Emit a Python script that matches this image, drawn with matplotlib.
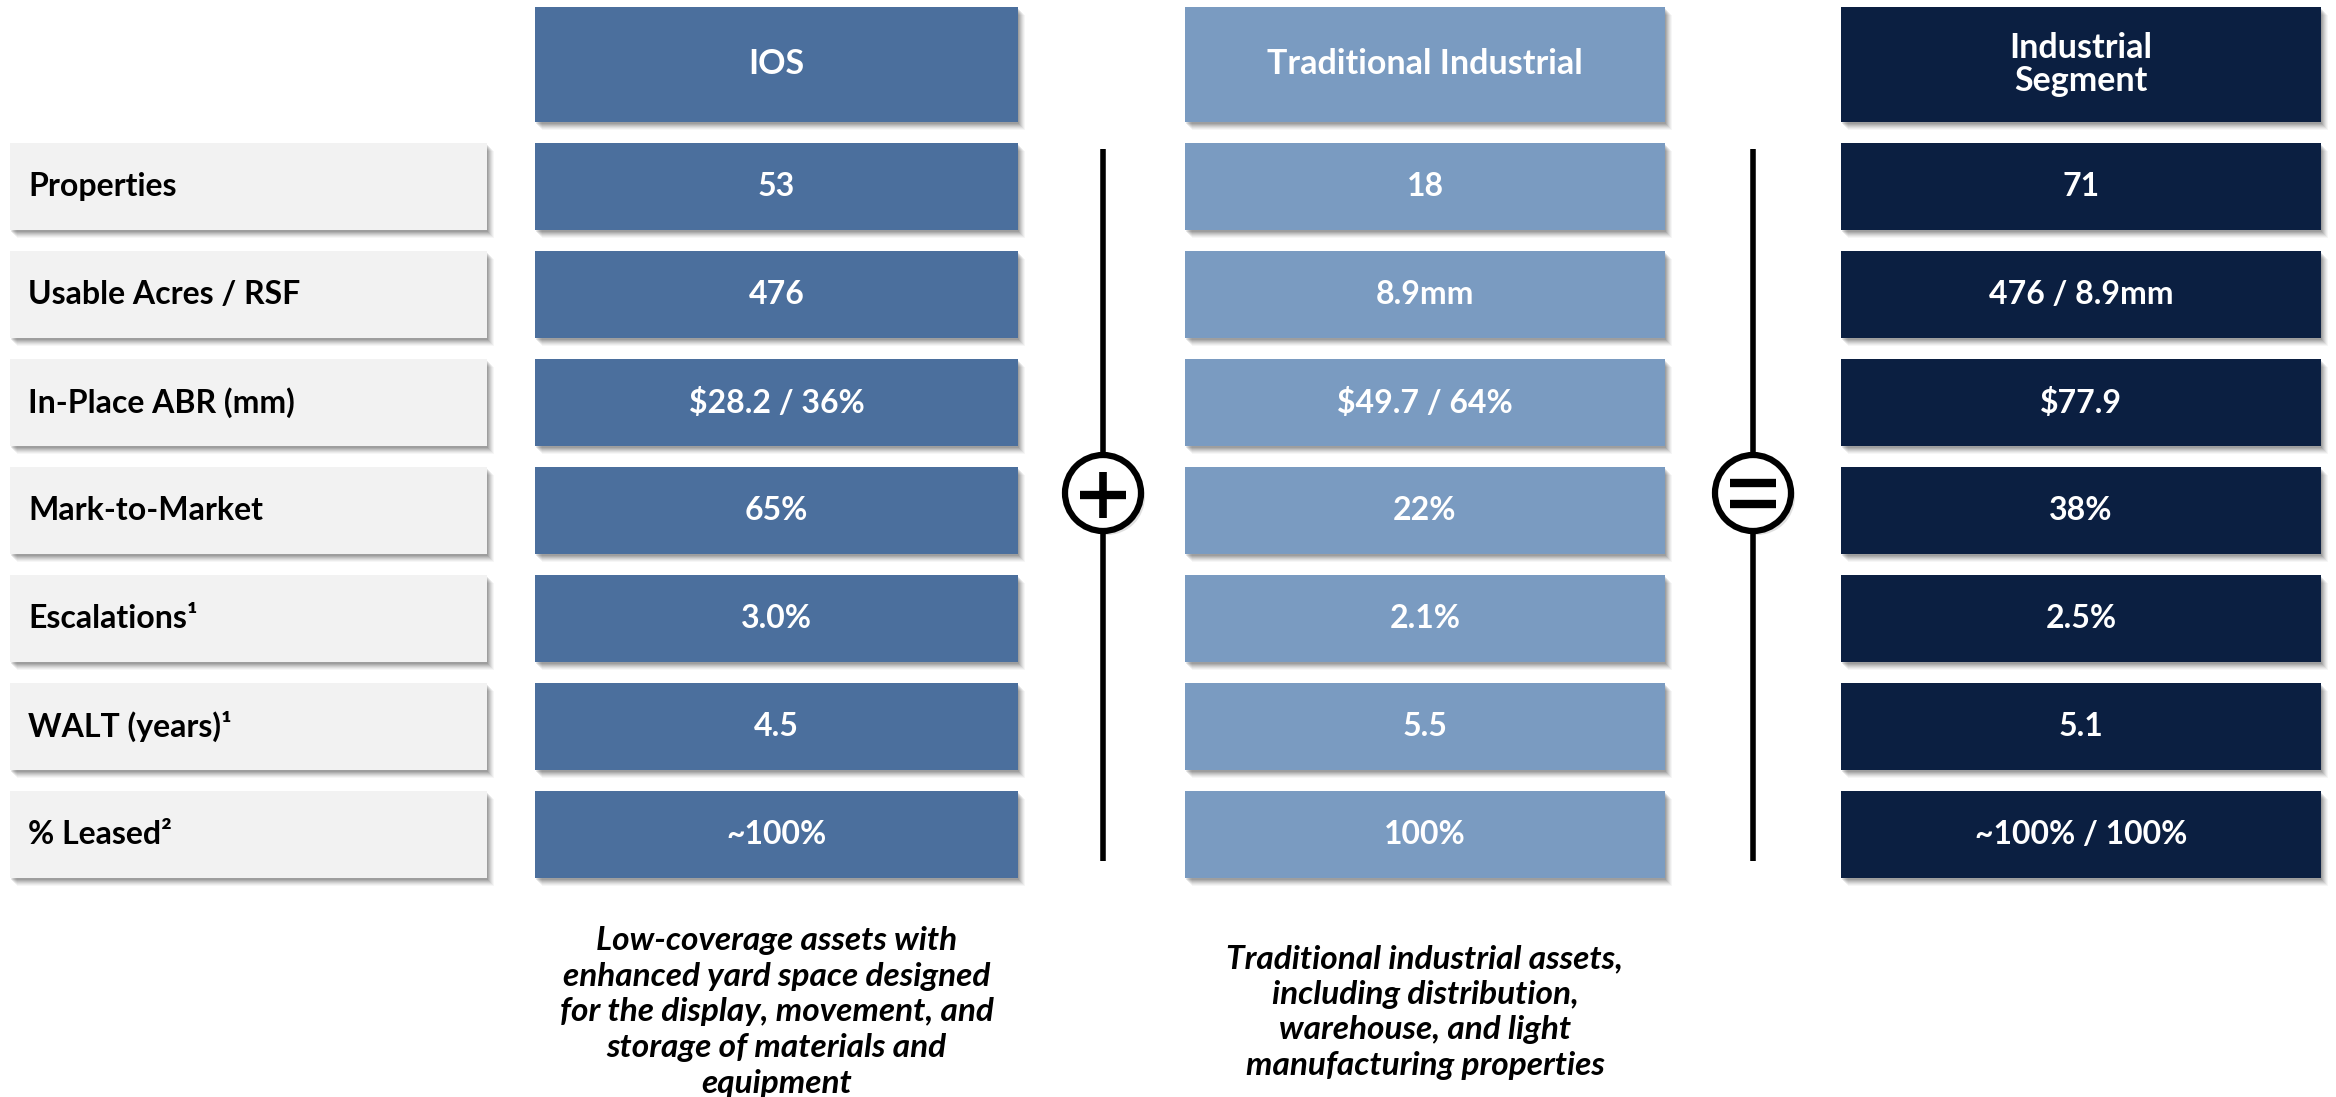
import matplotlib.pyplot as plt
from matplotlib.patches import Rectangle, Circle

plt.rcParams['font.family'] = ['Lato', 'DejaVu Sans']

metrics = ["Properties", "Usable Acres / RSF", "In-Place ABR (mm)", "Mark-to-Market",
           "Escalations¹", "WALT (years)¹", "% Leased²"]
columns = ["IOS", "Traditional Industrial", "Industrial\nSegment"]
ios_values = ["53", "476", "$28.2 / 36%", "65%", "3.0%", "4.5", "~100%"]
trad_values = ["18", "8.9mm", "$49.7 / 64%", "22%", "2.1%", "5.5", "100%"]
segment_values = ["71", "476 / 8.9mm", "$77.9", "38%", "2.5%", "5.1", "~100% / 100%"]
captions = [
    "Low-coverage assets with\nenhanced yard space designed\nfor the display, movement, and\nstorage of materials and\nequipment",
    "Traditional industrial assets,\nincluding distribution,\nwarehouse, and light\nmanufacturing properties",
]
col_colors = ["#4b6f9d", "#7a9bc1", "#0b1f41"]
label_color = "#f2f2f2"

W, H = 2336, 1097
fig = plt.figure(figsize=(W / 100, H / 100), dpi=100)
ax = fig.add_axes([0, 0, 1, 1])
ax.set_xlim(0, W)
ax.set_ylim(H, 0)
ax.axis("off")

# layout in pixels
label_x = (10, 487)
col_x = [(535, 1018), (1185, 1665), (1841, 2321)]
header_y = (7, 122)
row_top0, row_pitch, row_h = 143, 108, 87


def box(x0, x1, y0, y1, color):
    # soft drop shadow to the lower right
    for k, a in [(8, 0.035), (7, 0.045), (6, 0.055), (5, 0.065), (4, 0.075), (3, 0.085), (2, 0.09)]:
        ax.add_patch(Rectangle((x0 + k - 1, y0 + k), x1 - x0, y1 - y0, color="black", alpha=a, lw=0))
    ax.add_patch(Rectangle((x0, y0), x1 - x0, y1 - y0, color=color, lw=0))


fs = 23
# headers
for (x0, x1), name, c in zip(col_x, columns, col_colors):
    box(x0, x1, header_y[0], header_y[1], c)
    ax.text((x0 + x1) / 2, (header_y[0] + header_y[1]) / 2, name, color="white",
            fontsize=24.5, fontweight="bold", ha="center", va="center", linespacing=1.02)

# rows
all_values = [ios_values, trad_values, segment_values]
for i, m in enumerate(metrics):
    y0 = row_top0 + i * row_pitch
    y1 = y0 + row_h
    yc = (y0 + y1) / 2
    box(label_x[0], label_x[1], y0, y1, label_color)
    ax.text(28, yc, m, color="black", fontsize=fs, fontweight="bold", ha="left", va="center")
    for (x0, x1), vals, c in zip(col_x, all_values, col_colors):
        box(x0, x1, y0, y1, c)
        ax.text((x0 + x1) / 2, yc, vals[i], color="white", fontsize=fs, fontweight="bold",
                ha="center", va="center", parse_math=False)

# operator symbols
line_y = (149, 861)
cy, r = 493, 38
for cx, sym in [(1103, "+"), (1753, "=")]:
    ax.plot([cx, cx], line_y, color="black", lw=4, solid_capstyle="butt", zorder=3)
    ax.add_patch(Circle((cx + 4, cy + 4), r, color="black", alpha=0.12, lw=0, zorder=3))
    ax.add_patch(Circle((cx, cy), r, facecolor="white", edgecolor="black", lw=4.5, zorder=4))
    if sym == "+":
        ax.plot([cx - 23, cx + 23], [cy + 2, cy + 2], color="black", lw=6, solid_capstyle="butt", zorder=5)
        ax.plot([cx, cx], [cy - 21, cy + 25], color="black", lw=5.5, solid_capstyle="butt", zorder=5)
    else:
        for dy in (-10, 11):
            ax.plot([cx - 23, cx + 23], [cy + dy, cy + dy], color="black", lw=6, solid_capstyle="butt", zorder=5)

# captions
for (x0, x1), cap in zip(col_x[:2], captions):
    ax.text((x0 + x1) / 2, 1012, cap, color="black", fontsize=24, fontweight="bold",
            style="italic", ha="center", va="center", linespacing=1.28)

fig.savefig("out.png", dpi=100)
